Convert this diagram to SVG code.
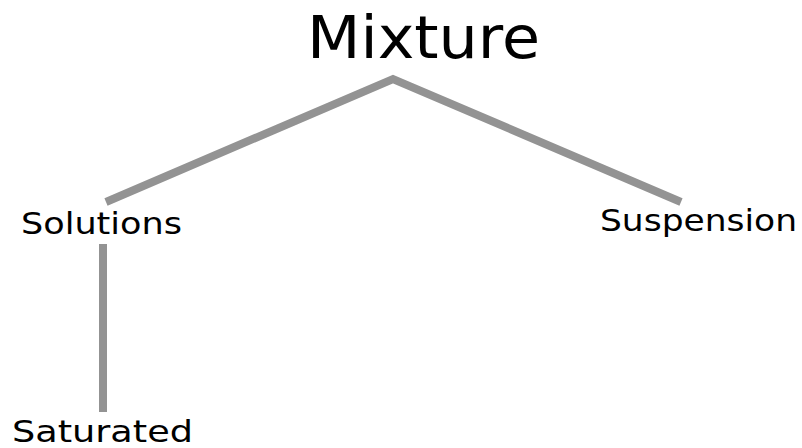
<svg xmlns="http://www.w3.org/2000/svg" width="802" height="448" viewBox="0 0 802 448">
<style>
text{font-family:"DejaVu Sans","Liberation Sans",sans-serif;fill:#000}
.lbl{font-size:30px}
.con{stroke:#939393;stroke-width:8;fill:none;stroke-linejoin:miter}
</style>
<rect width="802" height="448" fill="#fff"/>
<g id="connectors">
<polyline class="con" points="106,202 393,79 681,202"/>
<line class="con" x1="103" y1="244" x2="103" y2="412" stroke-width="9"/>
</g>
<g id="mixture"><text x="307" y="58" font-size="59" textLength="233" lengthAdjust="spacingAndGlyphs">Mixture</text></g>
<g id="solutions"><text class="lbl" x="21" y="234" textLength="161" lengthAdjust="spacingAndGlyphs">Solutions</text></g>
<g id="suspension"><text class="lbl" x="600" y="231" textLength="197" lengthAdjust="spacingAndGlyphs">Suspension</text></g>
<g id="saturated"><text class="lbl" x="12" y="442" textLength="181" lengthAdjust="spacingAndGlyphs">Saturated</text></g>
</svg>
